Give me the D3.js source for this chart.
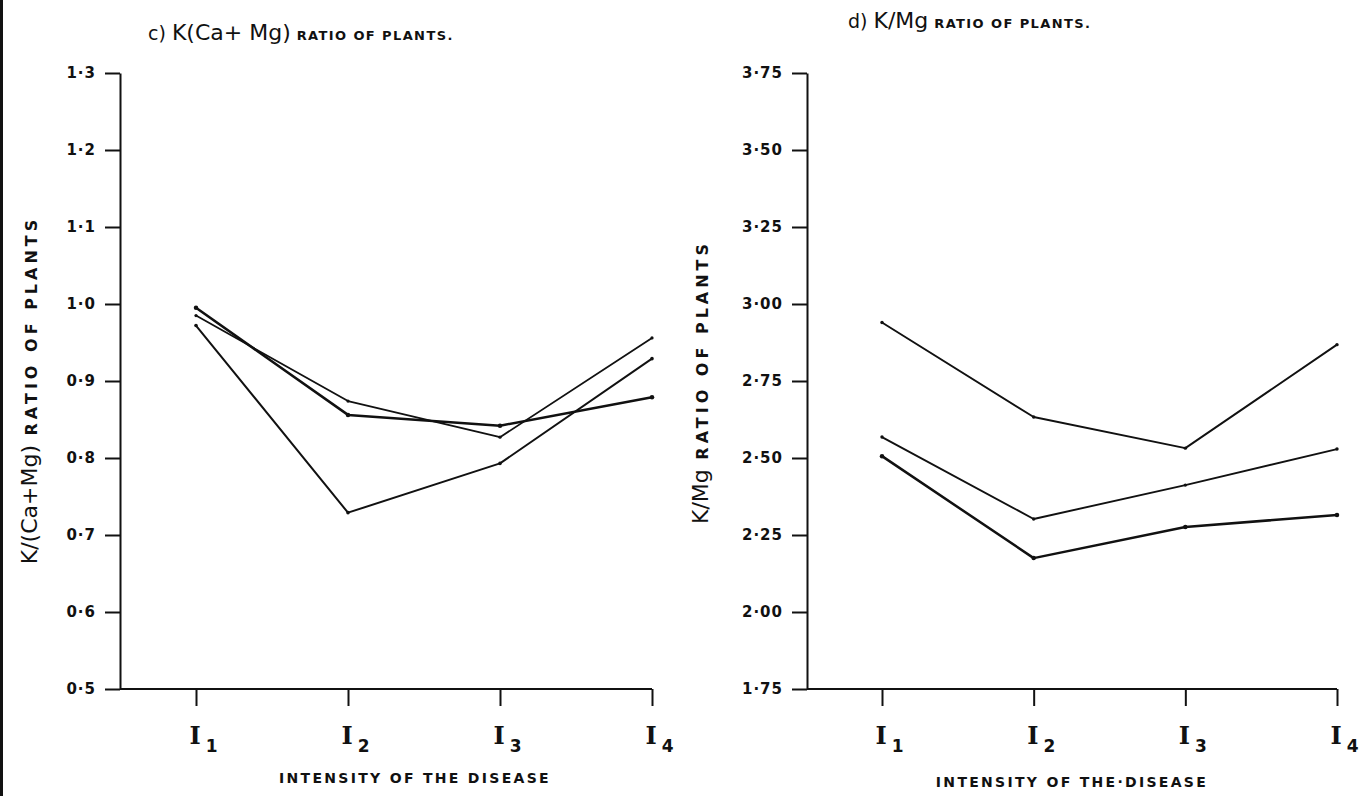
<!DOCTYPE html>
<html>
<head>
<meta charset="utf-8">
<script src="https://cdn.jsdelivr.net/npm/d3@7"></script>
<style>
  body { margin: 0; background: #fff; }
  svg { display: block; }
  text { fill: #111; font-family: "DejaVu Sans", sans-serif; }
</style>
</head>
<body>
<div id="chart"></div>
<script>
// intensity classes
const categories = ["1", "2", "3", "4"];

// c) K/(Ca+Mg) ratio of plants
const kcaTicks = [0.5, 0.6, 0.7, 0.8, 0.9, 1.0, 1.1, 1.2, 1.3];
const kcaThick = [0.995, 0.856, 0.842, 0.879];
const kcaThin = [0.985, 0.874, 0.827, 0.956];
const kcaLow = [0.972, 0.729, 0.793, 0.929];

// d) K/Mg ratio of plants
const kmgTicks = [1.75, 2.00, 2.25, 2.50, 2.75, 3.00, 3.25, 3.50, 3.75];
const kmgTop = [2.94, 2.633, 2.532, 2.868];
const kmgMid = [2.568, 2.302, 2.412, 2.529];
const kmgLow = [2.506, 2.175, 2.276, 2.315];

const W = 1371, H = 796;
const svg = d3.select("#chart").append("svg").attr("width", W).attr("height", H);

// scan border on the left edge
svg.append("line").attr("x1", 1.5).attr("x2", 1.5).attr("y1", 0).attr("y2", H)
  .attr("stroke", "#111").attr("stroke-width", 3);

const drawPanel = (opt) => {
  const x = d3.scalePoint().domain(categories).range(opt.xRange);
  const y = d3.scaleLinear().domain(opt.domain).range([689, 73]);
  const g = svg.append("g");

  // y axis
  const yAxis = g.append("g")
    .attr("transform", `translate(${opt.x0},0)`)
    .call(d3.axisLeft(y).tickValues(opt.ticks).tickSize(15).tickSizeOuter(0).tickPadding(9)
      .tickFormat(d => opt.fmt(d).replace(".", "·")));
  yAxis.selectAll("path, line").attr("stroke", "#111").attr("stroke-width", 2);
  yAxis.selectAll("text").attr("font-size", 15).attr("font-weight", "bold")
    .attr("letter-spacing", 1).attr("fill", "#111");

  // x baseline and ticks
  g.append("line").attr("x1", opt.x0).attr("x2", x("4"))
    .attr("y1", y(opt.domain[0])).attr("y2", y(opt.domain[0]))
    .attr("stroke", "#111").attr("stroke-width", 2.2);
  const xAxis = g.append("g")
    .attr("transform", `translate(0,${y(opt.domain[0])})`)
    .call(d3.axisBottom(x).tickSize(17).tickPadding(13));
  xAxis.select(".domain").remove();
  xAxis.selectAll("line").attr("stroke", "#111").attr("stroke-width", 2);
  xAxis.selectAll("text").text(null).attr("font-size", 24).attr("dy", "1.05em")
    .attr("text-anchor", "start").attr("dx", -7)
    .each(function (d) {
      const t = d3.select(this);
      t.append("tspan").attr("font-family", "DejaVu Serif, serif").attr("font-weight", "bold").text("I");
      t.append("tspan").attr("font-size", 17).attr("font-weight", "bold").attr("dy", 8).attr("dx", 5).text(d);
    });

  // series
  const line = d3.line().x((d, i) => x(categories[i])).y(d => y(d));
  opt.series.forEach(s => {
    g.append("path").datum(s.values).attr("d", line)
      .attr("fill", "none").attr("stroke", "#111").attr("stroke-width", s.w)
      .attr("stroke-linejoin", "round");
    g.selectAll(null).data(s.values).enter().append("circle")
      .attr("cx", (d, i) => x(categories[i])).attr("cy", d => y(d)).attr("r", s.w * 0.9)
      .attr("fill", "#111");
  });

  // title
  const title = g.append("text").attr("x", opt.titleX).attr("y", opt.titleY);
  title.append("tspan").attr("font-size", 19).text(opt.tag + " ");
  title.append("tspan").attr("font-size", 22).text(opt.titleMain);
  title.append("tspan").attr("font-size", 13).attr("font-weight", "bold").attr("letter-spacing", 1.4)
    .text(" RATIO OF PLANTS.");

  // y label
  const yl = g.append("text")
    .attr("transform", `translate(${opt.ylX},${opt.ylY}) rotate(-90)`)
    .attr("text-anchor", "middle");
  yl.append("tspan").attr("font-size", 22).text(opt.ylMain);
  yl.append("tspan").attr("font-size", 16).attr("font-weight", "bold").attr("letter-spacing", 4)
    .text(" RATIO OF PLANTS");

  // x label
  g.append("text").attr("x", opt.xlX).attr("y", opt.xlY).attr("text-anchor", "middle")
    .attr("font-size", 14).attr("font-weight", "bold").attr("letter-spacing", 2.3)
    .text(opt.xl);
};

drawPanel({
  x0: 120, xRange: [196, 652], domain: [0.5, 1.3], ticks: kcaTicks, fmt: d3.format(".1f"),
  series: [{ values: kcaThick, w: 2.5 }, { values: kcaThin, w: 1.8 }, { values: kcaLow, w: 2 }],
  tag: "c)", titleMain: "K(Ca+ Mg)", titleX: 148, titleY: 40,
  ylMain: "K/(Ca+Mg)", ylX: 37, ylY: 390,
  xl: "INTENSITY OF THE DISEASE", xlX: 415, xlY: 783
});

drawPanel({
  x0: 807, xRange: [882, 1337], domain: [1.75, 3.75], ticks: kmgTicks, fmt: d3.format(".2f"),
  series: [{ values: kmgTop, w: 1.9 }, { values: kmgMid, w: 1.9 }, { values: kmgLow, w: 2.5 }],
  tag: "d)", titleMain: "K/Mg", titleX: 848, titleY: 28,
  ylMain: "K/Mg", ylX: 708, ylY: 382,
  xl: "INTENSITY OF THE·DISEASE", xlX: 1072, xlY: 787
});
</script>
</body>
</html>
